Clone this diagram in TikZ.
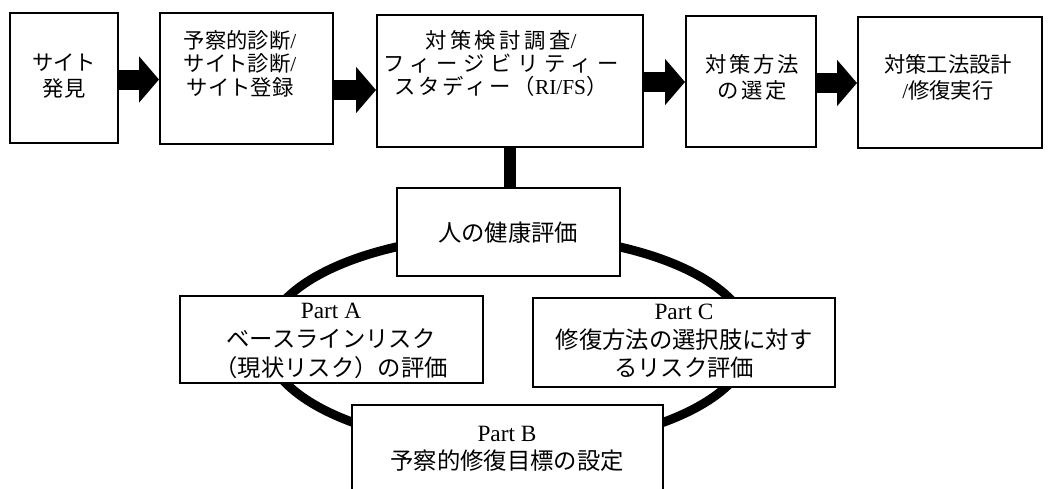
\documentclass[tikz,border=0pt]{standalone}
\usepackage{fontspec}
\setmainfont{Liberation Serif}
\newfontfamily\jpf{Noto Sans CJK JP}
\newcommand{\jpt}[1]{{\jpf #1}}
\usetikzlibrary{arrows.meta}
\begin{document}
\begin{tikzpicture}[x=0.75pt,y=-0.75pt,
  box/.style={draw, line width=1.5pt, fill=white, inner sep=0pt},
  toptxt/.style={inner sep=0pt, align=center, font=\fontsize{16}{17.6}\selectfont},
  toptxtw/.style={inner sep=0pt, align=center, font=\fontsize{16}{19}\selectfont},
  lowtxt/.style={inner sep=0pt, align=center, font=\fontsize{17.5}{21.5}\selectfont},
  fat/.style={line width=15pt, -{Triangle[length=15pt,width=34pt]}},
  ring/.style={line width=6.75pt}]
\clip (0,0) rectangle (1050,489);
\fill[white] (0,0) rectangle (1050,489);
% ring behind the lower boxes
\draw[ring] (508,341) ellipse [x radius=181.5pt, y radius=79.5pt];
% top row boxes
\node[box, minimum width=81pt, minimum height=97.5pt] (b1) at (64,78) {};
\node[box, minimum width=129.75pt, minimum height=98.25pt] (b2) at (246.5,78.5) {};
\node[box, minimum width=199.5pt, minimum height=99pt] (b3) at (510,81) {};
\node[box, minimum width=97.5pt, minimum height=98.25pt] (b4) at (751,81.5) {};
\node[box, minimum width=138pt, minimum height=98.25pt] (b5) at (950,82.5) {};
\node[toptxtw] (t1) at (64,76) {\jpt{サイト}\\\jpt{発見}};
\node[toptxt] (t2) at (240,63.5) {\jpt{予察的診断}/\\\jpt{サイト診断}/\\\jpt{サイト登録}};
\node[toptxt] (t3) at (501,63.5) {\jpt{\addfontfeature{LetterSpace=16}対策検討調査}/\\\jpt{\addfontfeature{LetterSpace=27}フィージビリティー}\\\jpt{\addfontfeature{LetterSpace=13}スタディー（}RI/FS\jpt{）}};
\node[toptxtw] (t4) at (752,77.5) {\jpt{\addfontfeature{LetterSpace=12}対策方法}\\\jpt{\addfontfeature{LetterSpace=12}の選定}};
\node[toptxtw] (t5) at (948,77.5) {\jpt{対策工法設計}\\/\jpt{修復実行}};
% connector from RI/FS to health assessment
\node[box, minimum width=167.25pt, minimum height=66pt] (hh) at (508.5,232) {};
\draw[line width=9pt] (b3.south) -- (b3.south |- hh.north);
\node[lowtxt] (thh) at (508,233) {\jpt{人の健康評価}};
% lower boxes
\node[box, minimum width=227.25pt, minimum height=65.25pt] (pa) at (331.5,339.5) {};
\node[box, minimum width=226.5pt, minimum height=66.75pt] (pc) at (684,342.5) {};
\node[box, minimum width=233.25pt, minimum height=90pt] (pb) at (507.5,465) {};
\node[lowtxt] (tpa) at (331,341) {Part A\\\jpt{ベースラインリスク}\\\jpt{（現状リスク）の評価}};
\node[lowtxt] (tpc) at (684,341.5) {Part C\\\jpt{修復方法の選択肢に対す}\\\jpt{るリスク評価}};
\node[lowtxt] (tpb) at (507,449) {Part B\\\jpt{予察的修復目標の設定}};
% fat arrows
\draw[fat] (b1.east |- 0,79.5) -- (b2.west |- 0,79.5);
\draw[fat] (b2.east |- 0,90) -- (b3.west |- 0,90);
\draw[fat] (b3.east |- 0,82) -- (b4.west |- 0,82);
\draw[fat] (b4.east |- 0,83) -- (b5.west |- 0,83);
\end{tikzpicture}
\end{document}
